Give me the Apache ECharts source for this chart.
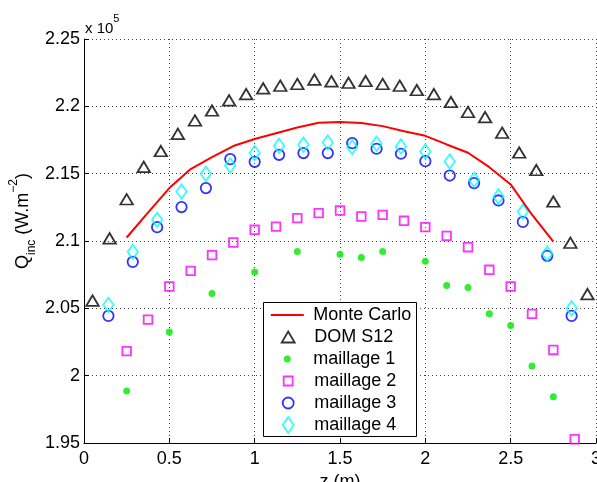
<!DOCTYPE html>
<html>
<head>
<meta charset="utf-8">
<script src="https://cdn.jsdelivr.net/npm/echarts@6/dist/echarts.min.js"></script>
<style>
html,body{margin:0;padding:0;background:#fff;overflow:hidden;}
#chart{width:597px;height:482px;}
</style>
</head>
<body>
<div id="chart"></div>
<script>
// ---- data (values in units of 1e5 W.m^-2) ----
var xTicks = [0, 0.5, 1, 1.5, 2, 2.5, 3];
var yTicks = [1.95, 2, 2.05, 2.1, 2.15, 2.2, 2.25];

var mcX = [0.25,0.375,0.5,0.625,0.75,0.875,1.0,1.125,1.25,1.375,1.5,1.625,1.75,1.875,2.0,2.125,2.25,2.375,2.5,2.625,2.75];
var mcY = [2.1026,2.121,2.1393,2.1534,2.1622,2.1705,2.1757,2.18,2.1843,2.1878,2.1884,2.1876,2.1853,2.1815,2.1781,2.1717,2.1655,2.1548,2.142,2.1195,2.0996];

var domX = [0.05,0.15,0.25,0.35,0.45,0.55,0.65,0.75,0.85,0.95,1.05,1.15,1.25,1.35,1.45,1.55,1.65,1.75,1.85,1.95,2.05,2.15,2.25,2.35,2.45,2.55,2.65,2.75,2.85,2.95];
var domY = [2.0557,2.102,2.131,2.155,2.1668,2.1796,2.1895,2.1969,2.2044,2.2091,2.2133,2.2153,2.2166,2.2198,2.2185,2.2175,2.2188,2.2166,2.2153,2.2121,2.2091,2.2032,2.1958,2.192,2.1804,2.1657,2.1527,2.1293,2.0987,2.0605];

var m1X = [0.25,0.5,0.75,1.0,1.25,1.5,1.625,1.75,2.0,2.125,2.25,2.375,2.5,2.625,2.75];
var m1Y = [1.9887,2.0325,2.061,2.0769,2.0922,2.0902,2.0877,2.0922,2.085,2.0669,2.0654,2.0459,2.0372,2.0072,1.9844];

var m2X = [0.25,0.375,0.5,0.625,0.75,0.875,1.0,1.125,1.25,1.375,1.5,1.625,1.75,1.875,2.0,2.125,2.25,2.375,2.5,2.625,2.75,2.875];
var m2Y = [2.0182,2.0416,2.0662,2.0778,2.0895,2.0989,2.1083,2.1107,2.117,2.1207,2.1226,2.1182,2.1194,2.115,2.1103,2.1038,2.0954,2.0786,2.0662,2.0459,2.0191,1.9528];

var m34X = [0.1429,0.2857,0.4286,0.5714,0.7143,0.8571,1.0,1.1429,1.2857,1.4286,1.5714,1.7143,1.8571,2.0,2.1429,2.2857,2.4286,2.5714,2.7143,2.8571];
var m3Y = [2.0444,2.0845,2.1103,2.1252,2.1393,2.1608,2.1588,2.164,2.1653,2.1653,2.1727,2.1685,2.1648,2.1593,2.1486,2.143,2.1301,2.1142,2.089,2.0444];
var m4Y = [2.0526,2.092,2.1157,2.1367,2.1499,2.1561,2.1653,2.1707,2.1715,2.1732,2.1697,2.1722,2.1702,2.1665,2.159,2.1454,2.133,2.1217,2.0905,2.05];

var seriesNames = ['Monte Carlo','DOM S12','maillage 1','maillage 2','maillage 3','maillage 4'];

function pairs(xs, ys){ return xs.map(function(x,i){ return [x, ys[i]]; }); }

var FONT = '"Liberation Sans", Arial, Helvetica, sans-serif';
var chart = echarts.init(document.getElementById('chart'), null, {renderer:'canvas'});

var BW = 1.8;
function hollow(color){ return {color:'transparent', borderColor: color, borderWidth: BW}; }

// legend layout: one legend per row so each icon keeps its own size
var legendIconCenterX = 287.3, legendTextX = 313.3;
var legendRowTop = 315, legendRowGap = 22;
var legendIcon = [
  {w:33, h:2,  icon:'path://M0,0L33,0L33,2L0,2Z', bw:0},
  {w:13, h:11, icon:null, bw:BW},
  {w:7,  h:7,  icon:null, bw:0},
  {w:9,  h:9,  icon:null, bw:BW},
  {w:11, h:11, icon:null, bw:BW},
  {w:11, h:16, icon:null, bw:BW}
];
var legends = seriesNames.map(function(name, i){
  var ic = legendIcon[i];
  var d = {name: name};
  if (ic.icon) d.icon = ic.icon;
  var left = legendIconCenterX - ic.w/2;
  var pad = legendTextX - (left + ic.w + 5);
  return {
    orient:'vertical', left: left, top: legendRowTop + legendRowGap*i - 10,
    padding: 0, itemWidth: ic.w, itemHeight: ic.h,
    selectedMode: false, z: 5,
    itemStyle: {borderWidth: ic.bw},
    textStyle: {fontFamily: FONT, fontSize: 18, color:'#000', lineHeight: 20, padding:[0,0,0,pad]},
    data: [d]
  };
});

var option = {
  animation: false,
  backgroundColor: '#fff',
  grid: {left: 84, right: 1, top: 39, bottom: 39, containLabel: false, outerBoundsMode: 'none'},
  xAxis: {
    type: 'value', min: xTicks[0], max: xTicks[xTicks.length-1], interval: 0.5,
    name: 'z (m)', nameLocation: 'middle', nameGap: 27,
    nameTextStyle: {fontFamily: FONT, fontSize: 18, color: '#000'},
    axisLine: {show: true, lineStyle: {color: '#000', width: 1}},
    axisTick: {show: true, inside: true, length: 5, lineStyle: {color: '#000'}},
    axisLabel: {fontFamily: FONT, fontSize: 18, color: '#000', margin: 7, hideOverlap: false},
    splitLine: {show: true, lineStyle: {color: '#444', width: 1, type: [1, 3]}}
  },
  yAxis: {
    type: 'value', min: yTicks[0], max: yTicks[yTicks.length-1], interval: 0.05,
    axisLine: {show: true, lineStyle: {color: '#000', width: 1}},
    axisTick: {show: true, inside: true, length: 5, lineStyle: {color: '#000'}},
    axisLabel: {fontFamily: FONT, fontSize: 18, color: '#000', margin: 4,
      formatter: function(v){ return String(+v.toFixed(2)); }},
    splitLine: {show: true, lineStyle: {color: '#444', width: 1, type: [1, 3]}}
  },
  legend: legends,
  graphic: [
    {type:'rect', z: 4, shape:{x:263.5, y:302.5, width:153, height:134},
     style:{fill:'#fff', stroke:'#000', lineWidth:1}},
    {type:'text', x: 85, y: 28.8, z: 5,
     style:{text:'{a|x 10}{b|5}', align:'left', verticalAlign:'middle',
       rich:{a:{fontFamily:FONT, fontSize:15, lineHeight:30, fill:'#000'},
             b:{fontFamily:FONT, fontSize:11, lineHeight:11, verticalAlign:'top', fill:'#000'}}}},
    {type:'text', x: 23, y: 221, rotation: Math.PI/2, z: 5,
     style:{text:'{n|Q}{s|inc}{n| (W.m}{p|−2}{n|)}', align:'center', verticalAlign:'middle',
       rich:{n:{fontFamily:FONT, fontSize:18, lineHeight:30, fill:'#000'},
             s:{fontFamily:FONT, fontSize:12, lineHeight:12, verticalAlign:'bottom', fill:'#000'},
             p:{fontFamily:FONT, fontSize:12, lineHeight:12, verticalAlign:'top', fill:'#000'}}}}
  ],
  series: [
    {name: seriesNames[0], type:'line', data: pairs(mcX, mcY), symbol:'none', showSymbol:false,
     lineStyle:{color:'#ff0000', width:2}, itemStyle:{color:'#ff0000'}, z:3},
    {name: seriesNames[1], type:'scatter', data: pairs(domX, domY), symbol:'triangle', symbolSize:[12.5,10.5],
     itemStyle: hollow('#000000')},
    {name: seriesNames[2], type:'scatter', data: pairs(m1X, m1Y), symbol:'circle', symbolSize:7,
     itemStyle:{color:'#00e800'}},
    {name: seriesNames[3], type:'scatter', data: pairs(m2X, m2Y), symbol:'rect', symbolSize:8.6,
     itemStyle: hollow('#ff00ff')},
    {name: seriesNames[4], type:'scatter', data: pairs(m34X, m3Y), symbol:'circle', symbolSize:10.4,
     itemStyle: hollow('#0000ff')},
    {name: seriesNames[5], type:'scatter', data: pairs(m34X, m4Y), symbol:'diamond', symbolSize:[10.4,14.4],
     itemStyle: hollow('#00ffff')}
  ]
};
chart.setOption(option);
</script>
</body>
</html>
